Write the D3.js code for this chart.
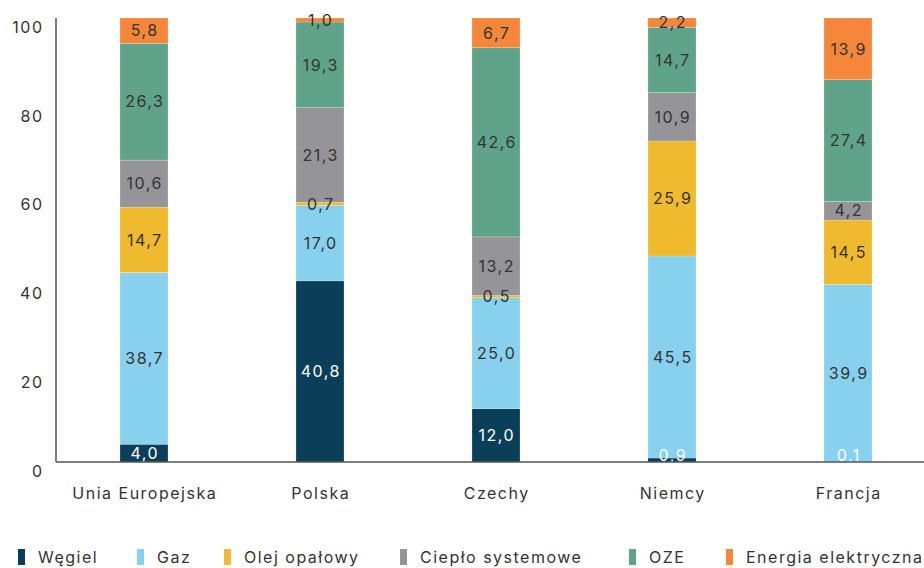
<!DOCTYPE html>
<html><head><meta charset="utf-8">
<script src="https://cdn.jsdelivr.net/npm/d3@7"></script>
<style>body{margin:0;background:#fff}text{font-family:"Inter","Open Sans",sans-serif;letter-spacing:1.5px}</style>
</head><body><svg id="c" width="924" height="568"></svg>
<script>
const categories = ["Unia Europejska","Polska","Czechy","Niemcy","Francja"];
const seriesNames = ["Węgiel","Gaz","Olej opałowy","Ciepło systemowe","OZE","Energia elektryczna"];
const wegiel = [4.0, 40.8, 12.0, 0.9, 0.1];
const gaz = [38.7, 17.0, 25.0, 45.5, 39.9];
const olej = [14.7, 0.7, 0.5, 25.9, 14.5];
const cieplo = [10.6, 21.3, 13.2, 10.9, 4.2];
const oze = [26.3, 19.3, 42.6, 14.7, 27.4];
const energia = [5.8, 1.0, 6.7, 2.2, 13.9];
const yTicks = [0,20,40,60,80,100];
const colors = ["#0b3f59","#87d1ee","#f0ba2f","#949499","#5fa38a","#f5873a"];
const labelColors = ["#fff","#333","#333","#333","#333","#333"];

const values = [wegiel,gaz,olej,cieplo,oze,energia];
const svg = d3.select("#c");
const x = d3.scaleBand().domain(categories).range([56,936]).paddingInner(0.727).paddingOuter(0.3635);
const y = d3.scaleLinear().domain([0,100]).range([462,18]);

const rows = categories.map((c,i)=>{const o={cat:c}; seriesNames.forEach((s,j)=>o[s]=values[j][i]); return o;});
const stack = d3.stack().keys(seriesNames)(rows);

stack.forEach((layer,j)=>{
  const g = svg.append("g");
  g.selectAll("rect").data(layer).join("rect")
    .attr("x",d=>x(d.data.cat)).attr("width",x.bandwidth())
    .attr("y",d=>y(Math.min(d[1],100))).attr("height",d=>y(d[0])-y(Math.min(d[1],100)))
    .attr("fill",colors[j]).attr("stroke","#fff").attr("stroke-opacity",0.35).attr("stroke-width",0.6);
});
stack.forEach((layer,j)=>{
  svg.append("g").selectAll("text").data(layer).join("text")
    .attr("x",d=>x(d.data.cat)+x.bandwidth()/2+0.75)
    .attr("y",d=>Math.min(y((d[0]+Math.min(d[1],100))/2),455))
    .attr("dy","0.36em").attr("text-anchor","middle")
    .attr("font-size",16).attr("fill",labelColors[j])
    .text(d=>d3.format(".1f")(d[1]-d[0]).replace(".",","));
});

// axes
svg.append("line").attr("x1",56).attr("x2",924).attr("y1",y(0)).attr("y2",y(0)).attr("stroke","#555").attr("stroke-width",1.5);
svg.append("line").attr("x1",56).attr("x2",56).attr("y1",y(100)).attr("y2",y(0)).attr("stroke","#555").attr("stroke-width",1.5);
svg.append("g").selectAll("text").data(yTicks).join("text")
  .attr("x",43.5).attr("y",d=>y(d)+9).attr("dy","0.36em").attr("text-anchor","end")
  .attr("font-size",16).attr("fill","#333").text(d=>d);
svg.append("g").selectAll("text").data(categories).join("text")
  .attr("x",d=>x(d)+x.bandwidth()/2+0.75).attr("y",493).attr("dy","0.36em").attr("text-anchor","middle")
  .attr("font-size",16).attr("fill","#333").text(d=>d);

// legend
const legX = [18,137,224,400,629,726];
const lg = svg.append("g").selectAll("g").data(seriesNames).join("g").attr("transform",(d,i)=>`translate(${legX[i]},557)`);
lg.append("rect").attr("x",0).attr("y",-8).attr("width",7).attr("height",16).attr("fill",(d,i)=>colors[i]);
lg.append("text").attr("x",20).attr("y",0).attr("dy","0.36em").attr("font-size",16).attr("fill","#333").text(d=>d);
</script></body></html>
